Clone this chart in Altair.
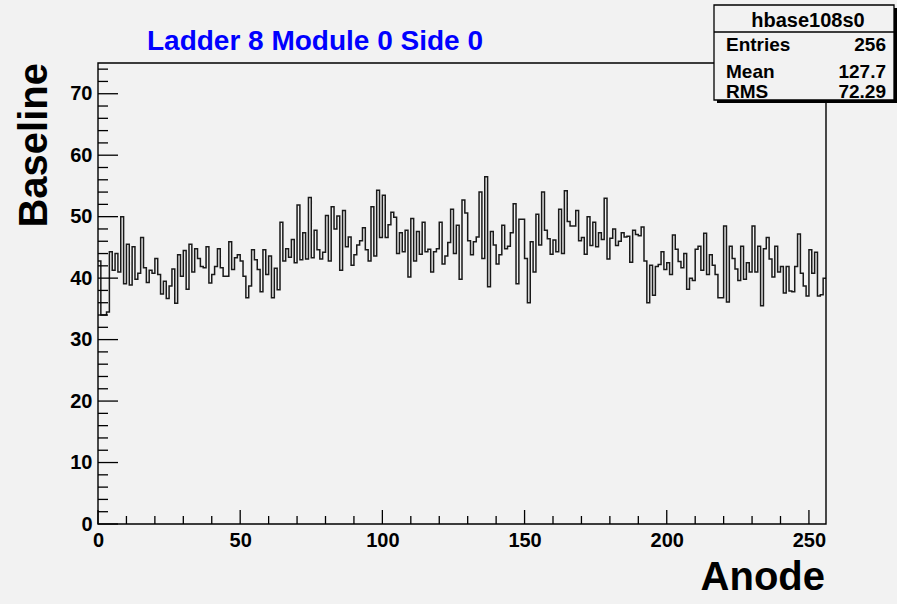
import altair as alt
import pandas as pd

# ---------------- data ----------------
values = [
    42.8, 34.0, 34.0, 34.5, 44.3, 41.3, 44.0, 41.0, 50.0, 39.1,
    45.5, 38.9, 45.1, 39.8, 40.8, 46.6, 41.7, 39.3, 41.3, 40.8,
    43.2, 40.6, 37.4, 39.5, 36.7, 38.7, 41.5, 35.9, 43.8, 40.3,
    44.5, 38.2, 45.5, 41.0, 44.8, 43.2, 41.9, 41.7, 45.1, 39.2,
    40.6, 41.9, 44.8, 41.7, 40.3, 40.3, 45.9, 41.4, 43.3, 43.8,
    42.8, 40.3, 36.8, 38.7, 44.6, 43.0, 41.4, 37.8, 44.6, 40.6,
    43.6, 36.8, 41.6, 38.1, 49.1, 42.8, 44.8, 43.4, 46.3, 42.5,
    51.9, 43.0, 47.4, 43.1, 53.1, 43.3, 47.8, 44.6, 43.1, 44.2,
    50.2, 42.8, 51.6, 48.0, 50.1, 41.3, 51.0, 45.1, 46.7, 42.1,
    43.8, 45.4, 46.1, 48.2, 44.6, 42.8, 51.6, 43.6, 54.3, 46.6,
    53.5, 46.6, 48.7, 50.7, 49.9, 44.0, 47.4, 44.3, 47.8, 40.2,
    49.7, 42.8, 47.6, 43.9, 49.1, 44.3, 44.7, 41.0, 44.3, 44.8,
    49.1, 42.3, 43.6, 45.8, 51.2, 44.0, 48.6, 39.8, 52.7, 50.6,
    46.1, 43.8, 45.9, 46.7, 54.0, 43.2, 56.5, 38.6, 47.6, 45.4,
    42.3, 43.8, 48.6, 44.8, 45.2, 47.4, 52.1, 39.1, 49.6, 49.6,
    43.2, 36.0, 45.9, 41.0, 50.4, 45.4, 54.0, 47.8, 46.4, 43.9,
    46.2, 44.3, 51.2, 44.0, 54.2, 49.2, 48.5, 48.5, 51.0, 46.1,
    46.6, 43.9, 50.0, 45.3, 49.1, 45.1, 47.4, 46.3, 53.0, 43.1,
    46.5, 48.0, 45.3, 46.0, 47.4, 46.7, 46.8, 42.6, 47.8, 47.1,
    46.9, 48.3, 42.8, 36.0, 42.1, 37.2, 41.9, 42.2, 44.3, 41.4,
    42.5, 40.6, 47.0, 44.7, 42.7, 41.7, 44.0, 38.2, 40.0, 39.6,
    44.7, 45.2, 41.3, 47.3, 40.6, 43.8, 42.1, 40.6, 36.8, 36.8,
    48.5, 36.1, 45.2, 43.2, 41.5, 39.6, 45.2, 39.8, 42.5, 41.0,
    48.5, 41.0, 45.2, 35.5, 44.8, 46.6, 43.1, 40.2, 45.2, 41.0,
    41.9, 37.6, 41.9, 37.9, 37.8, 41.9, 47.2, 40.8, 38.7, 37.1,
    44.6, 40.8, 44.2, 37.1, 37.3, 40.0,
]
x_major = [0, 50, 100, 150, 200, 250]
x_minor = [v for v in range(10, 256, 10) if v % 50 != 0]
y_major = [0, 10, 20, 30, 40, 50, 60, 70]
y_minor = [v for v in range(2, 75, 2) if v % 10 != 0]
title_text = "Ladder 8 Module 0 Side 0"
x_title = "Anode"
y_title = "Baseline"
hist_name = "hbase108s0"
stat_labels = ["Entries", "Mean", "RMS"]
stat_values = ["256", "127.7", "72.29"]

# ---------------- layout ----------------
W, H = 728, 461
FONT = "Liberation Sans"
BG = "#f2f2f2"

edges = list(range(len(values) + 1))
hist_df = pd.DataFrame({"x": edges, "y": values + [values[-1]]})

xscale = alt.Scale(domain=[0, 256], nice=False, zero=False)
yscale = alt.Scale(domain=[0, 75], nice=False)

xaxis = alt.Axis(values=x_major, ticks=False, domain=False, grid=False,
                 labelFont=FONT, labelFontWeight="bold", labelFontSize=20,
                 labelColor="black", labelPadding=6, labelFlush=False,
                 labelOverlap=False, format="d", title=None)
yaxis = alt.Axis(values=y_major, ticks=False, domain=False, grid=False,
                 labelFont=FONT, labelFontWeight="bold", labelFontSize=20,
                 labelColor="black", labelPadding=6, labelFlush=False,
                 labelOverlap=False, format="d", title=None)

hist = alt.Chart(hist_df).mark_line(
    interpolate="step-after", color="#1a1a1a", strokeWidth=1.5, clip=True
).encode(
    x=alt.X("x:Q", scale=xscale, axis=xaxis),
    y=alt.Y("y:Q", scale=yscale, axis=yaxis),
)

one = pd.DataFrame({"k": [0]})

frame = alt.Chart(one).mark_rect(filled=False, stroke="black", strokeWidth=1.4).encode(
    x=alt.value(0), x2=alt.value(W), y=alt.value(0), y2=alt.value(H)
)

def yticks(vals, length):
    return alt.Chart(pd.DataFrame({"y": vals})).mark_rule(color="black", strokeWidth=1.3).encode(
        y=alt.Y("y:Q", scale=yscale, axis=yaxis), x=alt.value(0), x2=alt.value(length)
    )

def xticks(vals, length):
    return alt.Chart(pd.DataFrame({"x": vals})).mark_rule(color="black", strokeWidth=1.3).encode(
        x=alt.X("x:Q", scale=xscale, axis=xaxis), y=alt.value(H), y2=alt.value(H - length)
    )

def text(t, x, y, size, align="left", color="black", angle=0, baseline="alphabetic"):
    return alt.Chart(one).mark_text(
        text=t, font=FONT, fontWeight="bold", fontSize=size, color=color,
        align=align, baseline=baseline, angle=angle
    ).encode(x=alt.value(x), y=alt.value(y))

title = text(title_text, 217, -13, 28, align="center", color="#0000ff")
xt = text(x_title, 727, 527, 40, align="right")
yt = text(y_title, -51, 0, 40, align="right", angle=270)

# stats box
bx0, bx1, by0, by1 = 616, 796, -58, 37
shadow = alt.Chart(one).mark_rect(fill="black").encode(
    x=alt.value(bx0 + 3), x2=alt.value(bx1 + 3), y=alt.value(by0 + 3), y2=alt.value(by1 + 3)
)
box = alt.Chart(one).mark_rect(fill=BG, stroke="black", strokeWidth=1.3).encode(
    x=alt.value(bx0), x2=alt.value(bx1), y=alt.value(by0), y2=alt.value(by1)
)
sep = alt.Chart(one).mark_rule(color="black", strokeWidth=1.3).encode(
    x=alt.value(bx0), x2=alt.value(bx1), y=alt.value(-31)
)
stat_layers = [text(hist_name, 710, -36, 20, align="center")]
row_y = [-12, 15, 35]
for lab, val, ry in zip(stat_labels, stat_values, row_y):
    stat_layers.append(text(lab, 628, ry, 19, align="left"))
    stat_layers.append(text(val, 788, ry, 19, align="right"))

chart = alt.layer(
    hist, frame,
    yticks(y_major, 20), yticks(y_minor, 10),
    xticks(x_major, 14), xticks(x_minor, 8),
    title, xt, yt,
    shadow, box, sep, *stat_layers,
).properties(
    width=W, height=H,
    padding={"left": 98, "top": 63, "right": 71, "bottom": 80},
    autosize=alt.AutoSizeParams(type="none"),
    background=BG,
).configure_view(stroke=None)

chart.save("out.html", embed_options={"renderer": "svg", "actions": False})
